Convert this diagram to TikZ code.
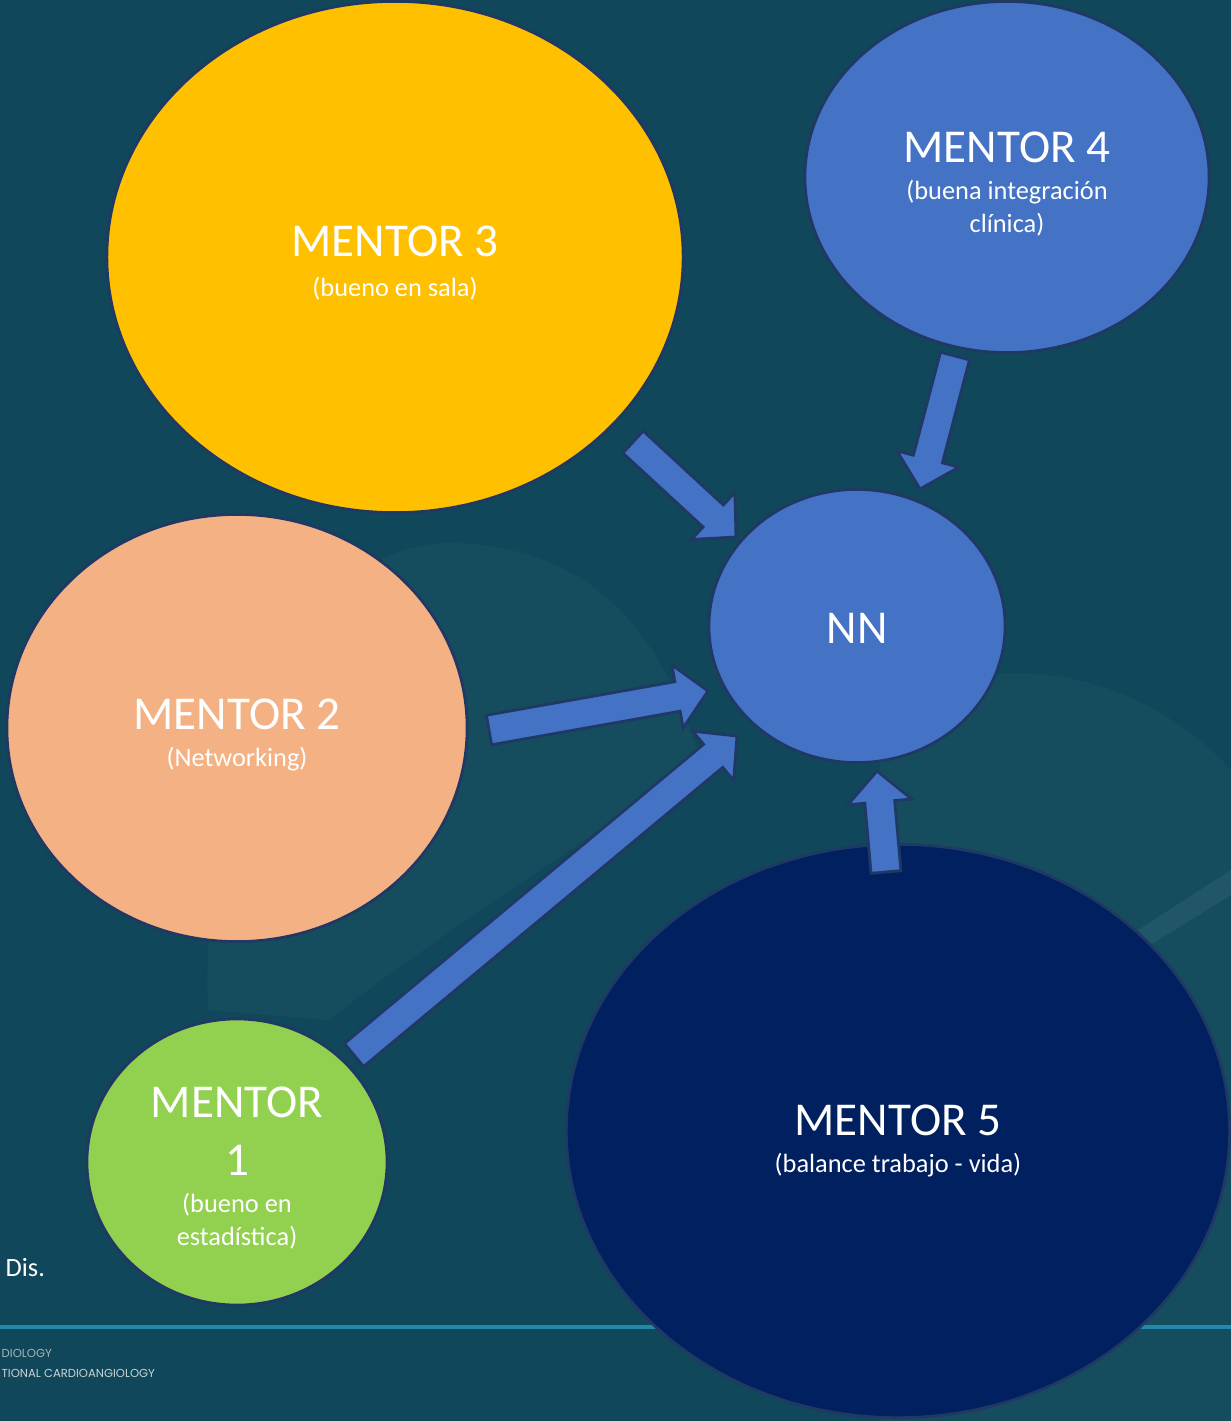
\documentclass[tikz,border=0pt]{standalone}
\usepackage{fontspec}
\setmainfont{Carlito}
\newfontfamily\footerfont{Poppins}
\usetikzlibrary{shapes.geometric,calc}

\definecolor{bgteal}{HTML}{11475A}
\definecolor{bglight}{HTML}{154D5F}
\definecolor{rulecol}{HTML}{1F8AAE}
\definecolor{edge}{HTML}{1F3864}
\definecolor{sala}{HTML}{FFC000}
\definecolor{network}{HTML}{F4B183}
\definecolor{stats}{HTML}{92D050}
\definecolor{clinic}{HTML}{4472C4}
\definecolor{balance}{HTML}{002060}
\definecolor{footgray}{HTML}{C9D2D7}

\newcommand{\titlefont}{\fontsize{13.4}{16}\selectfont}
\newcommand{\subfont}{\fontsize{7.5}{9.2}\selectfont}

% block arrow from tail coordinate #1 to tip coordinate #2
\newcommand{\mentorarrow}[2]{%
  \coordinate (#1-base) at ($(#2)!0.31cm!(#1)$);
  \draw[arrowbody]
    ($(#1)!0.15cm!90:(#2)$) --
    ($(#1-base)!0.15cm!-90:(#1)$) --
    ($(#1-base)!0.32cm!-90:(#1)$) --
    (#2) --
    ($(#1-base)!0.32cm!90:(#1)$) --
    ($(#1-base)!0.15cm!90:(#1)$) --
    ($(#1)!0.15cm!-90:(#2)$) -- cycle;}

\begin{document}
\begin{tikzpicture}[x=0.01cm, y=-0.01cm]
  \tikzstyle{mentor}=[ellipse, draw=edge, line width=0.8pt, inner sep=0pt]
  \tikzstyle{mentortext}=[inner sep=0pt, text=white, align=center, font=\subfont]
  \tikzstyle{arrowbody}=[fill=clinic, draw=edge, line width=0.8pt]
  \tikzstyle{footer}=[inner sep=0pt, anchor=west, text=footgray, font=\footerfont\fontsize{3.3}{4}\selectfont]

  \useasboundingbox (0,0) rectangle (1231,1421);
  \clip (0,0) rectangle (1231,1421);

  % background
  \fill[bgteal] (0,0) rectangle (1231,1421);
  \fill[bglight] (208,1010) .. controls (200,800) and (280,545) .. (450,543)
    .. controls (580,545) and (660,620) .. (700,760)
    .. controls (560,860) and (400,960) .. (330,1020) -- cycle;
  \fill[bglight] (880,720) .. controls (940,660) and (1110,640) .. (1231,770)
    -- (1231,1421) -- (880,1421) -- cycle;
  \fill[white, opacity=0.05] (1231,870) -- (1231,895) -- (1150,945) -- (1138,930) -- cycle;
  \draw[rulecol, line width=1pt] (0,1327) -- (1231,1327);

  \node[inner sep=0pt, anchor=west, text=white, font=\subfont] (dis) at (5,1268) {Dis.};
  \node[footer, opacity=0.8] (foot1) at (1,1353) {DIOLOGY};
  \node[footer] (foot2) at (1,1373) {TIONAL CARDIOANGIOLOGY};

  % mentors
  \node[mentor, fill=sala, minimum width=5.76cm, minimum height=5.11cm] (m3) at (395,257) {};
  \node[mentor, fill=clinic, minimum width=4.04cm, minimum height=3.51cm] (m4) at (1007,177) {};
  \node[mentor, fill=clinic, minimum width=2.96cm, minimum height=2.73cm] (nn) at (857,626) {};
  \node[mentor, fill=network, minimum width=4.60cm, minimum height=4.27cm] (m2) at (237,728) {};
  \node[mentor, fill=stats, minimum width=3.00cm, minimum height=2.86cm] (m1) at (237,1162) {};
  \node[mentor, fill=balance, minimum width=6.63cm, minimum height=5.73cm] (m5) at (898,1131) {};

  % texts
  \node[mentortext] (m3text) at ([yshift=-0.06cm]m3.center)
    {{\titlefont MENTOR 3}\\[2pt](bueno en sala)};
  \node[mentortext] (m4text) at ([yshift=-0.07cm]m4.center)
    {{\titlefont MENTOR 4}\\[1.4pt](buena integración\\clínica)};
  \node[mentortext] (nntext) at ([yshift=-0.02cm]nn.center) {\titlefont NN};
  \node[mentortext] (m2text) at ([yshift=-0.07cm]m2.center)
    {{\titlefont MENTOR 2}\\[1.3pt](Networking)};
  \node[mentortext] (m1text) at ([yshift=-0.06cm]m1.center)
    {{\titlefont MENTOR}\\[7.3pt]{\titlefont 1}\\[1.3pt](bueno en\\estadística)};
  \node[mentortext] (m5text) at ([yshift=-0.10cm]m5.center)
    {{\titlefont MENTOR 5}\\[1.3pt](balance trabajo - vida)};

  % arrow ends
  \coordinate (m3tail) at (633,442);  \coordinate (m3tip) at (736,537);
  \coordinate (m4tail) at (955,356);  \coordinate (m4tip) at (920,489);
  \coordinate (m2tail) at (489,730);  \coordinate (m2tip) at (708,691);
  \coordinate (m1tail) at (354,1055); \coordinate (m1tip) at (737,736);
  \coordinate (m5tail) at (886,872);  \coordinate (m5tip) at (877,771);

  \mentorarrow{m3tail}{m3tip}
  \mentorarrow{m4tail}{m4tip}
  \mentorarrow{m2tail}{m2tip}
  \mentorarrow{m1tail}{m1tip}
  \mentorarrow{m5tail}{m5tip}
\end{tikzpicture}
\end{document}
